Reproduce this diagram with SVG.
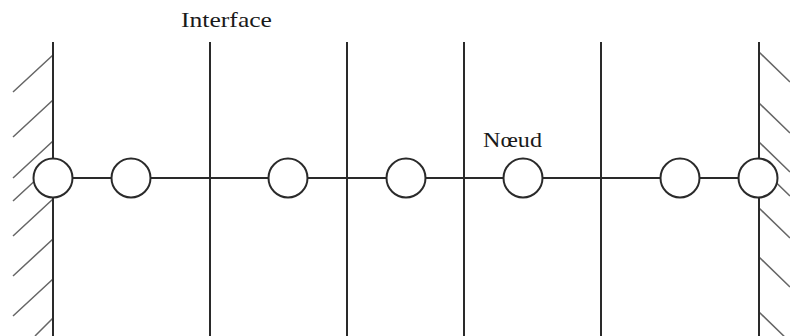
<svg xmlns="http://www.w3.org/2000/svg" width="790" height="336" viewBox="0 0 790 336">
<style>
.ln{stroke:#2a2a2a;stroke-width:2;fill:none}
.h{stroke:#666;stroke-width:1.5;fill:none}
.nd{fill:#fff;stroke:#2a2a2a;stroke-width:2}
.t{font-family:"Liberation Serif","DejaVu Serif",serif;font-size:22px;fill:#1a1a1a}
</style>
<rect width="790" height="336" fill="#fff"/>
<g id="hatch-left">
<path class="h" d="M53 55L13 92M53 100L13 137M53 141L13 178M53 164L13 201M53 199L13 236M53 239L13 276M53 279L13 316M53 318L35 336"/>
</g>
<g id="hatch-right">
<path class="h" d="M759 52L790 82M759 103L790 133M759 142L790 172M759 166L790 196M759 208L790 238M759 257L790 287M759 312L790 342"/>
</g>
<g id="connectors">
<line class="ln" x1="53" y1="178" x2="758" y2="178"/>
<line class="ln" x1="53" y1="42" x2="53" y2="336"/>
<line class="ln" x1="759" y1="42" x2="759" y2="336"/>
<line class="ln" x1="210" y1="42" x2="210" y2="336"/>
<line class="ln" x1="347" y1="42" x2="347" y2="336"/>
<line class="ln" x1="464" y1="42" x2="464" y2="336"/>
<line class="ln" x1="601" y1="42" x2="601" y2="336"/>
</g>
<g id="node1"><circle class="nd" cx="53" cy="178" r="19.5"/></g>
<g id="node2"><circle class="nd" cx="131" cy="178" r="19.5"/></g>
<g id="node3"><circle class="nd" cx="288" cy="178" r="19.5"/></g>
<g id="node4"><circle class="nd" cx="406" cy="178" r="19.5"/></g>
<g id="node5"><circle class="nd" cx="523" cy="178" r="19.5"/></g>
<g id="node6"><circle class="nd" cx="680" cy="178" r="19.5"/></g>
<g id="node7"><circle class="nd" cx="758" cy="178" r="19.5"/></g>
<g id="labels">
<text class="t" x="181" y="27" textLength="91" lengthAdjust="spacingAndGlyphs">Interface</text>
<text class="t" x="483" y="147" textLength="59" lengthAdjust="spacingAndGlyphs">Nœud</text>
</g>
</svg>
